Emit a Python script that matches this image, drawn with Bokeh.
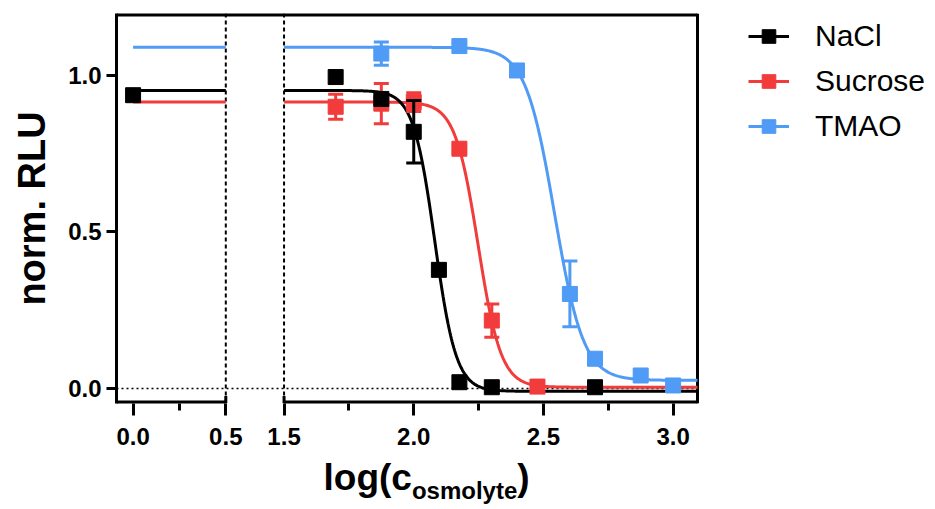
import numpy as np
from bokeh.plotting import figure
from bokeh.models import (LinearAxis, FixedTicker, CustomJSTickFormatter, PrintfTickFormatter,
                          Span, Legend, LegendItem, Range1d)
from bokeh.embed import file_html
from bokeh.resources import INLINE

# ---------------- data (x = log10 of osmolyte concentration) ----------------
series = ["NaCl", "Sucrose", "TMAO"]
colors = ["#000000", "#f23b3b", "#4f9bf5"]

nacl_x = [0.0, 1.699, 1.875, 2.0, 2.097, 2.176, 2.301, 2.699]
nacl_y = [0.937, 0.995, 0.925, 0.82, 0.379, 0.02, 0.004, 0.004]
nacl_err = [0.0, 0.0, 0.0, 0.10, 0.0, 0.0, 0.0, 0.0]

sucrose_x = [1.699, 1.875, 2.0, 2.176, 2.301, 2.477]
sucrose_y = [0.90, 0.91, 0.915, 0.766, 0.217, 0.006]
sucrose_err = [0.04, 0.064, 0.03, 0.01, 0.053, 0.0]

tmao_x = [1.875, 2.176, 2.398, 2.602, 2.699, 2.875, 3.0]
tmao_y = [1.07, 1.094, 1.016, 0.302, 0.095, 0.0415, 0.0096]
tmao_err = [0.037, 0.01, 0.0, 0.105, 0.0, 0.0, 0.0]

# sigmoidal dose-response fit parameters
fit_top = [0.952, 0.915, 1.09]
fit_bottom = [-0.009, 0.004, 0.026]
fit_logec50 = [2.081, 2.248, 2.543]
fit_hill = [10.5, 9.8, 7.75]

x_ticks = [0.0, 0.5, 1.5, 2.0, 2.5, 3.0]
x_minor_ticks = [0.25, 1.75, 2.25, 2.75]
y_ticks = [0.0, 0.5, 1.0]

x_title_main = ["log(c", ")"]
x_title_sub = ["osmolyte"]
y_title = "norm. RLU"

# ---------------- broken x axis ----------------
BREAK_LO, BREAK_HI = 0.5, 1.5
LEFT_SCALE = 0.7148      # compression of the 0..0.5 segment
GAP = 0.2246             # width of the blank gap (plot units)
X_LEFT, X_RIGHT = -0.0895, 3.094
Y_START, Y_END = -0.048, 1.198


def to_u(x):
    x = np.asarray(x, dtype=float)
    return np.where(x >= BREAK_HI, x, BREAK_HI - GAP - (BREAK_LO - x) * LEFT_SCALE)


U_LEFT, U_RIGHT = float(to_u(X_LEFT)), float(to_u(X_RIGHT))
W, H = 935, 509
FRAME_L, BOX_R, FRAME_T, FRAME_B = 116, 697, 13, 403


def px2u(px):
    return U_LEFT + (px - FRAME_L) / (BOX_R - FRAME_L) * (U_RIGHT - U_LEFT)


def hill(x, top, bottom, c, h):
    return bottom + (top - bottom) / (1.0 + 10 ** ((x - c) * h))


FONT = "Liberation Sans"

# the frame reaches the right edge of the page so that the legend lives inside it;
# the chart box itself ends at U_RIGHT
p = figure(width=W, height=H, output_backend="svg", toolbar_location=None,
           x_range=Range1d(U_LEFT, px2u(W)), y_range=Range1d(Y_START, Y_END),
           min_border_left=FRAME_L, min_border_right=0, min_border_top=FRAME_T,
           min_border_bottom=H - FRAME_B)
p.grid.visible = False
p.outline_line_color = None
p.background_fill_color = "white"
p.border_fill_color = "white"

# y axis
ya = p.yaxis[0]
ya.ticker = FixedTicker(ticks=y_ticks, minor_ticks=[])
ya.formatter = PrintfTickFormatter(format="%.1f")
ya.axis_line_width = 3
ya.major_tick_line_width = 3
ya.major_tick_out = 10
ya.major_tick_in = 0
ya.major_label_standoff = 5
ya.major_label_text_font = FONT
ya.major_label_text_font_style = "bold"
ya.major_label_text_font_size = "24px"
ya.major_label_text_color = "black"
ya.axis_label = y_title
ya.axis_label_text_font = FONT
ya.axis_label_text_font_style = "bold"
ya.axis_label_text_font_size = "38px"
ya.axis_label_text_color = "black"
ya.axis_label_standoff = 12

# x axis (ticks + labels; the broken line is drawn separately)
xa = p.xaxis[0]
xa.ticker = FixedTicker(ticks=[float(v) for v in to_u(x_ticks)],
                        minor_ticks=[float(v) for v in to_u(x_minor_ticks)])
xa.formatter = CustomJSTickFormatter(
    args=dict(lo=BREAK_LO, hi=BREAK_HI, gap=GAP, scale=LEFT_SCALE),
    code="""
    let x = tick;
    if (tick < hi - gap / 2) { x = lo - ((hi - gap) - tick) / scale; }
    if (Math.abs(x) < 1e-6) { x = 0; }
    return x.toFixed(1);
    """)
xa.axis_line_color = None
xa.major_tick_line_width = 3
xa.major_tick_out = 12
xa.major_tick_in = 0
xa.minor_tick_line_width = 3
xa.minor_tick_out = 7
xa.minor_tick_in = 0
xa.major_label_standoff = 12
xa.major_label_text_font = FONT
xa.major_label_text_font_style = "bold"
xa.major_label_text_font_size = "24px"
xa.major_label_text_color = "black"

# x axis title "log(c_osmolyte)": two label-only axes stacked below the tick axis
title_main_ax = LinearAxis(
    ticker=FixedTicker(ticks=[px2u(367.2), px2u(523.0)], minor_ticks=[]),
    formatter=CustomJSTickFormatter(args=dict(labels=x_title_main), code="return labels[index];"),
    axis_line_color=None, major_tick_line_color=None, minor_tick_line_color=None,
    major_tick_out=0, major_tick_in=0, major_label_standoff=9,
    major_label_text_font=FONT, major_label_text_font_style="bold",
    major_label_text_font_size="37px", major_label_text_color="black")
p.add_layout(title_main_ax, "below")
title_sub_ax = LinearAxis(
    ticker=FixedTicker(ticks=[px2u(464.1)], minor_ticks=[]),
    formatter=CustomJSTickFormatter(args=dict(labels=x_title_sub), code="return labels[index];"),
    axis_line_color=None, major_tick_line_color=None, minor_tick_line_color=None,
    major_tick_out=0, major_tick_in=0, major_label_standoff=-24,
    major_label_text_font=FONT, major_label_text_font_style="bold",
    major_label_text_font_size="24px", major_label_text_color="black")
p.add_layout(title_sub_ax, "below")

# box: top, right, and broken bottom axis line with end caps at the break
u_lo, u_hi = float(to_u(BREAK_LO)), float(to_u(BREAK_HI))
p.segment(x0=[U_LEFT, U_LEFT, u_hi], x1=[U_RIGHT, u_lo, U_RIGHT],
          y0=[Y_END, Y_START, Y_START], y1=[Y_END, Y_START, Y_START],
          line_color="black", line_width=6)
p.segment(x0=[U_RIGHT], x1=[U_RIGHT], y0=[Y_START], y1=[Y_END], line_color="black", line_width=3)
p.segment(x0=[u_lo, u_hi], x1=[u_lo, u_hi], y0=[Y_START, Y_START],
          y1=[Y_START + 0.024, Y_START + 0.024], line_color="black", line_width=3)

# break markers and zero line
for xb in (BREAK_LO, BREAK_HI):
    p.add_layout(Span(location=float(to_u(xb)), dimension="height", line_color="black",
                      line_width=2, line_dash="4 3", level="underlay"))
p.segment(x0=[U_LEFT], x1=[U_RIGHT], y0=[0], y1=[0], line_color="black", line_width=1.5,
          line_dash="2 3")

# fitted curves
xs_left = np.linspace(0.0, BREAK_LO, 40)
xs_right = np.linspace(BREAK_HI, X_RIGHT, 500)
xs = np.concatenate([xs_left, [np.nan], xs_right])
order = [2, 1, 0]
line_r = {}
for i in order:
    ys = hill(xs, fit_top[i], fit_bottom[i], fit_logec50[i], fit_hill[i])
    line_r[i] = p.line(to_u(xs), ys, line_color=colors[i], line_width=3)

# points with error bars
data = [(nacl_x, nacl_y, nacl_err), (sucrose_x, sucrose_y, sucrose_err), (tmao_x, tmao_y, tmao_err)]
pt_r = {}
for i in order:
    xv, yv, ev = (np.asarray(a, dtype=float) for a in data[i])
    m = ev > 0
    ux = to_u(xv)
    if m.any():
        p.segment(x0=ux[m], x1=ux[m], y0=yv[m] - ev[m], y1=yv[m] + ev[m],
                  line_color=colors[i], line_width=3)
        p.scatter(np.concatenate([ux[m], ux[m]]), np.concatenate([yv[m] - ev[m], yv[m] + ev[m]]),
                  marker="dash", size=15, line_color=colors[i], line_width=3)
    pt_r[i] = p.scatter(ux, yv, marker="square", size=15, fill_color=colors[i],
                        line_color=colors[i], line_width=1)

# legend to the right of the box (offsets from the frame's bottom-left corner, in px)
legend = Legend(items=[LegendItem(label=series[i], renderers=[line_r[i], pt_r[i]]) for i in range(3)],
                location=(748 - FRAME_L, FRAME_B - 143), glyph_width=41, glyph_height=34,
                label_standoff=26, spacing=11, padding=0, margin=0, border_line_color=None,
                background_fill_alpha=0, label_text_font=FONT, label_text_font_size="30px",
                label_text_color="black")
p.add_layout(legend)

open("out.html", "w").write(file_html(p, INLINE))
